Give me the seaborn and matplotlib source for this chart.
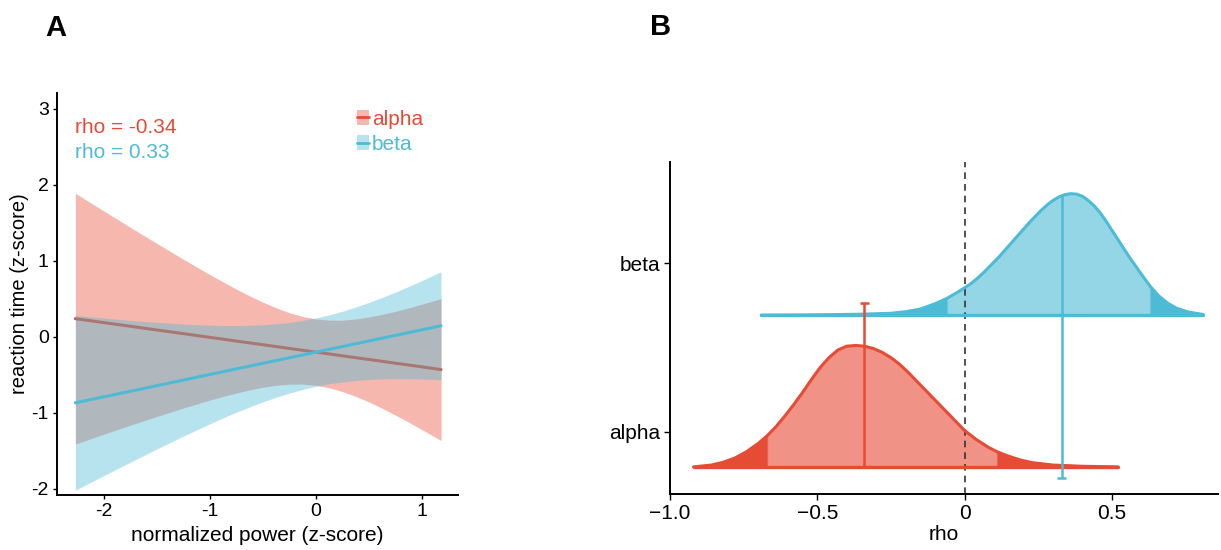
import numpy as np
import pandas as pd
import matplotlib
matplotlib.use("Agg")
import matplotlib.pyplot as plt
import seaborn as sns
from matplotlib.patches import Patch
from matplotlib.lines import Line2D

# ---- panel A: regression of reaction time on power
power_x = [-2.27, -2.0, -1.75, -1.5, -1.25, -1.0, -0.875, -0.75, -0.625, -0.5, -0.375, -0.25,
           -0.125, 0.0, 0.125, 0.25, 0.375, 0.5, 0.625, 0.75, 0.875, 1.0, 1.18]
alpha_fit = [0.24, 0.188, 0.14, 0.091, 0.043, -0.006, -0.030, -0.055, -0.079, -0.103, -0.127, -0.152,
             -0.176, -0.20, -0.224, -0.249, -0.273, -0.297, -0.321, -0.346, -0.370, -0.394, -0.43]
alpha_hi = [1.89, 1.656, 1.44, 1.229, 1.021, 0.819, 0.722, 0.628, 0.539, 0.456, 0.382, 0.318,
            0.269, 0.236, 0.221, 0.221, 0.236, 0.262, 0.297, 0.337, 0.382, 0.431, 0.504]
alpha_lo = [-1.41, -1.28, -1.16, -1.047, -0.935, -0.831, -0.782, -0.738, -0.697, -0.662, -0.636, -0.622,
            -0.621, -0.636, -0.669, -0.719, -0.782, -0.856, -0.939, -1.029, -1.122, -1.219, -1.364]
beta_fit = [-0.867, -0.788, -0.715, -0.641, -0.568, -0.494, -0.457, -0.42, -0.384, -0.347, -0.31, -0.274,
            -0.237, -0.20, -0.163, -0.127, -0.09, -0.053, -0.016, 0.02, 0.057, 0.094, 0.147]
beta_hi = [0.283, 0.248, 0.217, 0.191, 0.169, 0.154, 0.150, 0.150, 0.152, 0.160, 0.173, 0.191,
           0.217, 0.25, 0.291, 0.338, 0.393, 0.454, 0.520, 0.590, 0.664, 0.742, 0.857]
beta_lo = [-2.017, -1.824, -1.647, -1.473, -1.305, -1.142, -1.064, -0.99, -0.92, -0.854, -0.793, -0.739,
           -0.691, -0.65, -0.617, -0.592, -0.573, -0.56, -0.552, -0.55, -0.55, -0.554, -0.563]
bands = ["alpha", "beta"]
rho_values = [-0.34, 0.33]

# ---- panel B: posterior densities of rho
alpha_dx = [-0.92, -0.86, -0.82, -0.78, -0.74, -0.70, -0.67, -0.64, -0.61, -0.58, -0.55, -0.52, -0.49,
            -0.46, -0.43, -0.40, -0.37, -0.34, -0.31, -0.28, -0.25, -0.22, -0.19, -0.16, -0.13, -0.10,
            -0.07, -0.04, 0.0, 0.04, 0.08, 0.11, 0.15, 0.19, 0.23, 0.3, 0.4, 0.52]
alpha_dens = [0.0, 0.012, 0.03, 0.058, 0.10, 0.155, 0.205, 0.265, 0.335, 0.41, 0.49, 0.575, 0.655,
              0.72, 0.77, 0.795, 0.80, 0.795, 0.78, 0.755, 0.72, 0.675, 0.62, 0.56, 0.50, 0.44,
              0.38, 0.32, 0.24, 0.18, 0.13, 0.10, 0.07, 0.045, 0.028, 0.012, 0.004, 0.0]
beta_dx = [-0.69, -0.55, -0.45, -0.35, -0.25, -0.2, -0.15, -0.1, -0.06, -0.02, 0.02, 0.045, 0.07, 0.095,
           0.12, 0.145, 0.17, 0.195, 0.22, 0.24, 0.26, 0.28, 0.3, 0.32, 0.34, 0.36, 0.38, 0.40, 0.42,
           0.44, 0.46, 0.48, 0.50, 0.52, 0.54, 0.56, 0.58, 0.60, 0.63, 0.66, 0.69, 0.72, 0.76, 0.81]
beta_dens = [0.0, 0.001, 0.003, 0.006, 0.012, 0.022, 0.04, 0.075, 0.11, 0.155, 0.205, 0.245, 0.29, 0.34,
             0.39, 0.445, 0.50, 0.555, 0.61, 0.65, 0.69, 0.725, 0.755, 0.778, 0.793, 0.80, 0.797, 0.783, 0.755,
             0.72, 0.675, 0.62, 0.56, 0.50, 0.44, 0.38, 0.325, 0.27, 0.19, 0.125, 0.078, 0.045, 0.02, 0.004]
alpha_ci = [-0.67, 0.11]
beta_ci = [-0.06, 0.63]
bar_lo = [0.0, -0.07]
bar_hi = [1.08, 1.79]

red = "#E64B35"
blue = "#4DBBD5"
colors = [red, blue]

sns.set_theme(style="ticks")
plt.rcParams["font.family"] = ["Liberation Sans", "DejaVu Sans"]
plt.rcParams["text.color"] = "black"
plt.rcParams["axes.labelcolor"] = "black"

fig = plt.figure(figsize=(12.21, 5.5), dpi=100)

# ================= panel A
axA = fig.add_axes([0.0467, 0.1, 0.3284, 0.731])
fits = [alpha_fit, beta_fit]
his = [alpha_hi, beta_hi]
los = [alpha_lo, beta_lo]
for k, (name, col, fit, hi, lo) in enumerate(zip(bands, colors, fits, his, los)):
    axA.fill_between(power_x, lo, hi, color=col, alpha=0.4, lw=0, zorder=1 + 2 * k)
    df = pd.DataFrame({"power": power_x, "rt": fit})
    sns.lineplot(data=df, x="power", y="rt", color=col, lw=2.2, ax=axA, zorder=2 + 2 * k)

axA.set_xlim(-2.443, 1.34)
axA.set_ylim(-2.08, 3.21)
axA.set_xticks([-2, -1, 0, 1])
axA.set_xticklabels(["-2", "-1", "0", "1"])
axA.set_yticks([-2, -1, 0, 1, 2, 3])
axA.set_yticklabels(["-2", "-1", "0", "1", "2", "3"])
axA.set_xlabel("normalized power (z-score)", fontsize=15, labelpad=4)
axA.set_ylabel("reaction time (z-score)", fontsize=14.5, labelpad=2)
axA.tick_params(labelsize=14, length=3, width=1, color="black", labelcolor="black", pad=3)
for s in ["left", "bottom"]:
    axA.spines[s].set_color("black")
    axA.spines[s].set_linewidth(1.4)
sns.despine(ax=axA)

axA.text(0.045, 0.915, "rho = %.2f" % rho_values[0], color=red, fontsize=15,
         transform=axA.transAxes, va="center")
axA.text(0.045, 0.851, "rho = %.2f" % rho_values[1], color=blue, fontsize=15,
         transform=axA.transAxes, va="center")

handles = [(Patch(facecolor=c, alpha=0.4, lw=0), Line2D([], [], color=c, lw=2)) for c in colors]
leg = axA.legend(handles, bands, loc="upper left", bbox_to_anchor=(0.748, 0.958), frameon=False,
                 fontsize=15, handlelength=0.6, handleheight=0.75, handletextpad=0.12,
                 labelspacing=0.3, borderpad=0, borderaxespad=0)
for t, c in zip(leg.get_texts(), colors):
    t.set_color(c)

# ================= panel B
axB = fig.add_axes([0.5487, 0.102, 0.449, 0.603])
dens_x = [alpha_dx, beta_dx]
dens_y = [alpha_dens, beta_dens]
cis = [alpha_ci, beta_ci]
baselines = [0.0, 1.0]

for i in [1, 0]:
    x = np.array(dens_x[i])
    y = np.array(dens_y[i]) + baselines[i]
    b = baselines[i]
    col = colors[i]
    lo_ci, hi_ci = cis[i]
    mid = (x >= lo_ci) & (x <= hi_ci)
    axB.fill_between(x, b, y, where=mid, color=col, alpha=0.6, lw=0)
    axB.fill_between(x, b, y, where=x <= lo_ci, color=col, lw=0)
    axB.fill_between(x, b, y, where=x >= hi_ci, color=col, lw=0)
    axB.vlines([lo_ci, hi_ci], b, np.interp([lo_ci, hi_ci], x, y), color=col, lw=1, alpha=0.5)
    axB.hlines(b, x.min(), x.max(), color=col, lw=2.4, capstyle="round")
    sns.lineplot(x=x, y=y, color=col, lw=2.2, estimator=None, ax=axB,
                 solid_joinstyle="round", solid_capstyle="round")

axB.axvline(0, color="#333333", lw=1.2, ls=(0, (4, 3)), zorder=1)

# observed rho markers
cap = 0.015
for i in [0, 1]:
    col = colors[i]
    axB.vlines(rho_values[i], bar_lo[i], bar_hi[i], color=col, lw=1.8, zorder=5)
    cap_y = bar_hi[i] if i == 0 else bar_lo[i]
    axB.hlines(cap_y, rho_values[i] - cap, rho_values[i] + cap, color=col, lw=1.8, zorder=5)

axB.set_xlim(-1.0, 0.861)
axB.set_ylim(-0.178, 2.007)
axB.set_xticks([-1.0, -0.5, 0, 0.5])
axB.set_xticklabels(["\u22121.0", "\u22120.5", "0", "0.5"])
axB.set_yticks([0.23, 1.34])
axB.set_yticklabels(bands)
axB.set_xlabel("rho", fontsize=15, labelpad=2)
axB.set_ylabel("")
axB.tick_params(labelsize=15, length=4, width=1, color="black", labelcolor="black", pad=3)
for s in ["left", "bottom"]:
    axB.spines[s].set_color("black")
    axB.spines[s].set_linewidth(1.4)
sns.despine(ax=axB)

fig.text(0.037, 0.949, "A", fontsize=21, fontweight="bold", va="center")
fig.text(0.532, 0.951, "B", fontsize=21, fontweight="bold", va="center")

fig.savefig("out.png", dpi=100)
